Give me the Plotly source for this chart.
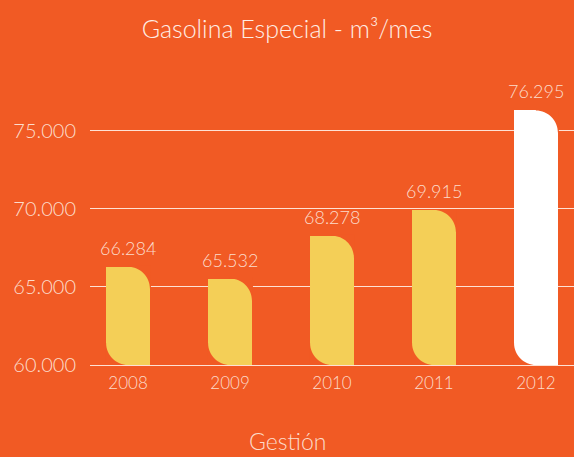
import plotly.graph_objects as go

# data
years = [2008, 2009, 2010, 2011, 2012]
volumes = [66284, 65532, 68278, 69915, 76295]
bar_colors = ["#F4CF57", "#F4CF57", "#F4CF57", "#F4CF57", "#FFFFFF"]
y_ticks = [60000, 65000, 70000, 75000]

bg = "#F15A24"
txt = "#FCDCCB"
grid = "rgba(255,240,232,0.9)"
bar_w = 0.43
r = 22  # corner radius in px
k = 0.5523 * r


def fmt(v):
    return f"{v:,}".replace(",", ".")


fig = go.Figure(go.Bar(
    x=years, y=volumes, width=bar_w,
    marker=dict(color=bar_colors, line=dict(width=0)),
    hoverinfo="skip",
))

# value labels
for yr, v in zip(years, volumes):
    fig.add_annotation(x=yr, y=v, text=fmt(v), showarrow=False,
                       yanchor="bottom", yshift=6,
                       font=dict(size=18, color=txt))

# masks that cut the top-right and bottom-left corners round
for yr, v in zip(years, volumes):
    tr = (f"M 1,1 L {-r},1 L {-r},0 C {-r + k},0 0,{-r + k} 0,{-r} "
          f"L 1,{-r} Z")
    fig.add_shape(type="path", path=tr, xref="x", yref="y",
                  xsizemode="pixel", ysizemode="pixel",
                  xanchor=yr + bar_w / 2, yanchor=v,
                  fillcolor=bg, line=dict(width=0), layer="above")
    bl = (f"M -1,0 L -1,{r} L 0,{r} C 0,{r - k} {r - k},0 {r},0 Z")
    fig.add_shape(type="path", path=bl, xref="x", yref="y",
                  xsizemode="pixel", ysizemode="pixel",
                  xanchor=yr - bar_w / 2, yanchor=y_ticks[0],
                  fillcolor=bg, line=dict(width=0), layer="above")

fig.add_annotation(text="Gestión", xref="paper", yref="paper",
                   x=0.409, y=-0.276, yanchor="middle", showarrow=False,
                   font=dict(size=23, color=txt))

fig.update_layout(
    width=574, height=457,
    margin=dict(l=90, r=0, t=90, b=92),
    paper_bgcolor=bg, plot_bgcolor=bg,
    separators=",.",
    font=dict(family="Lato", color=txt, weight=300),
    showlegend=False,
    title=dict(text="Gasolina Especial - m³/mes", x=0.5, xanchor="center",
               y=0.935, yanchor="middle",
               font=dict(size=25, color="#FFEDE4", weight=300)),
    bargap=0,
)
fig.update_xaxes(range=[2008 - 0.373, 2012 + 0.373], tickvals=years,
                 tickformat="d", showgrid=False, zeroline=False,
                 tickfont=dict(size=17, color=txt), ticks="",
                 ticklabelstandoff=3,
                 showline=True, linecolor=grid, linewidth=1)
fig.update_yaxes(range=[60000, 77600], tickvals=y_ticks, tickformat=",d",
                 showgrid=True, gridcolor=grid,
                 gridwidth=1, zeroline=False, ticks="outside", ticklen=9,
                 tickcolor=bg, tickfont=dict(size=20, color=txt))

fig.write_html("out.html", config={"displayModeBar": False},
               post_script="document.body.style.margin='0';")
